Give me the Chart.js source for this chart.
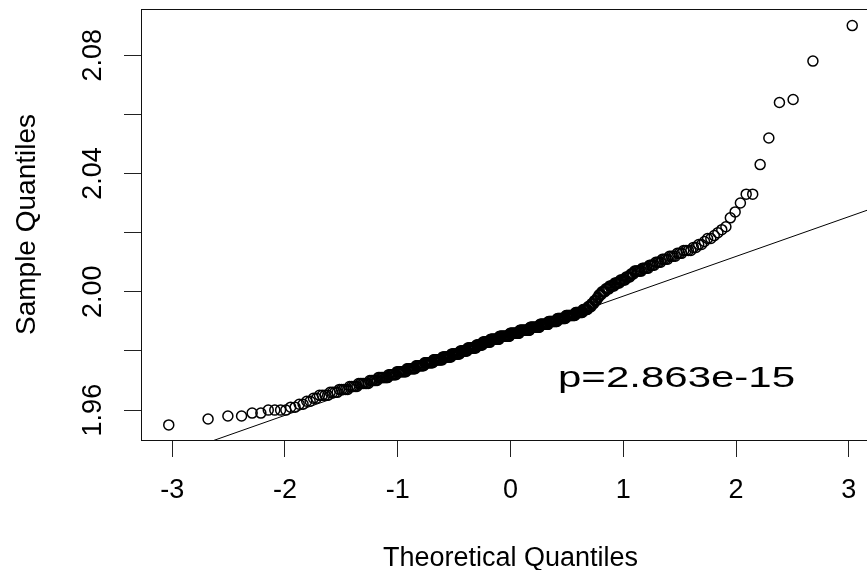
<!DOCTYPE html>
<html>
<head>
<meta charset="utf-8">
<script src="https://cdn.jsdelivr.net/npm/chart.js@4/dist/chart.umd.min.js"></script>
<style>
  html, body { margin: 0; padding: 0; background: #fff; overflow: hidden; }
  canvas { display: block; }
</style>
</head>
<body>
<canvas id="c" width="900" height="570"></canvas>
<script>
// ---- data (sorted sample quantiles, n = 410) ----
const sampleQuantiles = [
  1.955,
  1.957,
  1.958, 1.958,
  1.959, 1.959,
  1.960, 1.960, 1.960, 1.960,
  1.961, 1.961,
  1.962, 1.962,
  1.963, 1.963,
  1.964, 1.964,
  1.965, 1.965, 1.965, 1.965,
  1.966, 1.966, 1.966, 1.966,
  1.967, 1.967, 1.967, 1.967, 1.967,
  1.968, 1.968, 1.968, 1.968, 1.968,
  1.969, 1.969, 1.969, 1.969, 1.969, 1.969, 1.969,
  1.970, 1.970, 1.970, 1.970, 1.970, 1.970,
  1.971, 1.971, 1.971, 1.971, 1.971, 1.971, 1.971, 1.971,
  1.972, 1.972, 1.972, 1.972, 1.972, 1.972, 1.972,
  1.973, 1.973, 1.973, 1.973, 1.973, 1.973, 1.973, 1.973, 1.973,
  1.974, 1.974, 1.974, 1.974, 1.974, 1.974, 1.974, 1.974, 1.974,
  1.975, 1.975, 1.975, 1.975, 1.975, 1.975, 1.975, 1.975, 1.975,
  1.976, 1.976, 1.976, 1.976, 1.976, 1.976, 1.976, 1.976, 1.976, 1.976,
  1.977, 1.977, 1.977, 1.977, 1.977, 1.977, 1.977, 1.977, 1.977, 1.977, 1.977,
  1.978, 1.978, 1.978, 1.978, 1.978, 1.978, 1.978, 1.978, 1.978, 1.978, 1.978,
  1.979, 1.979, 1.979, 1.979, 1.979, 1.979, 1.979, 1.979, 1.979, 1.979, 1.979,
  1.980, 1.980, 1.980, 1.980, 1.980, 1.980, 1.980, 1.980, 1.980, 1.980,
  1.981, 1.981, 1.981, 1.981, 1.981, 1.981, 1.981, 1.981, 1.981, 1.981, 1.981, 1.981,
  1.982, 1.982, 1.982, 1.982, 1.982, 1.982, 1.982, 1.982, 1.982,
  1.983, 1.983, 1.983, 1.983, 1.983, 1.983, 1.983, 1.983, 1.983, 1.983, 1.983,
  1.984, 1.984, 1.984, 1.984, 1.984, 1.984, 1.984, 1.984, 1.984, 1.984, 1.984, 1.984, 1.984,
  1.985, 1.985, 1.985, 1.985, 1.985, 1.985, 1.985, 1.985, 1.985, 1.985, 1.985, 1.985, 1.985, 1.985, 1.985,
  1.986, 1.986, 1.986, 1.986, 1.986, 1.986, 1.986, 1.986, 1.986, 1.986, 1.986, 1.986, 1.986, 1.986,
  1.987, 1.987, 1.987, 1.987, 1.987, 1.987, 1.987, 1.987, 1.987, 1.987, 1.987, 1.987, 1.987, 1.987, 1.987,
  1.988, 1.988, 1.988, 1.988, 1.988, 1.988, 1.988, 1.988, 1.988, 1.988, 1.988, 1.988, 1.988, 1.988,
  1.989, 1.989, 1.989, 1.989, 1.989, 1.989, 1.989, 1.989, 1.989, 1.989, 1.989, 1.989,
  1.990, 1.990, 1.990, 1.990, 1.990, 1.990, 1.990, 1.990, 1.990, 1.990, 1.990, 1.990,
  1.991, 1.991, 1.991, 1.991, 1.991, 1.991, 1.991, 1.991, 1.991, 1.991, 1.991,
  1.992, 1.992, 1.992, 1.992, 1.992, 1.992, 1.992, 1.992, 1.992, 1.992, 1.992, 1.992,
  1.993, 1.993, 1.993, 1.993, 1.993, 1.993, 1.993, 1.993, 1.993,
  1.994, 1.994, 1.994, 1.994, 1.994, 1.994,
  1.995, 1.995, 1.995, 1.995,
  1.996, 1.996, 1.996,
  1.997, 1.997, 1.997,
  1.998, 1.998,
  1.999, 1.999, 1.999,
  2.000, 2.000, 2.000, 2.000,
  2.001, 2.001, 2.001, 2.001,
  2.002, 2.002, 2.002, 2.002, 2.002,
  2.003, 2.003, 2.003, 2.003, 2.003,
  2.004, 2.004, 2.004, 2.004, 2.004,
  2.005, 2.005, 2.005, 2.005,
  2.006, 2.006, 2.006,
  2.007, 2.007, 2.007, 2.007, 2.007, 2.007,
  2.008, 2.008, 2.008, 2.008, 2.008,
  2.009, 2.009, 2.009, 2.009,
  2.010, 2.010, 2.010, 2.010,
  2.011, 2.011, 2.011, 2.011,
  2.012, 2.012, 2.012, 2.012,
  2.013, 2.013, 2.013,
  2.014, 2.014, 2.014, 2.014,
  2.015, 2.015,
  2.016, 2.016,
  2.017,
  2.018, 2.018,
  2.019, 2.020, 2.021, 2.022, 2.025, 2.027, 2.030,
  2.033, 2.033, 2.043, 2.052, 2.064, 2.065, 2.078, 2.090
];

// reference line (qqline) read at two x positions
const refLineX = [-3.5, 3.5];
const refLineY = [1.9381, 2.0321];

// axes
const xTicks = [-3, -2, -1, 0, 1, 2, 3];
const yTicks = [1.96, 1.98, 2.00, 2.02, 2.04, 2.06, 2.08];
const yTickLabels = [1.96, 2.00, 2.04, 2.08];
const xRange = [-3.277, 3.277];
const yRange = [1.9499, 2.0956];

const xTitle = 'Theoretical Quantiles';
const yTitle = 'Sample Quantiles';
const pText = 'p=2.863e-15';

// theoretical normal quantiles as in R's qqnorm: qnorm(ppoints(n))
function qnorm(p) {
  const a = [-3.969683028665376e+01, 2.209460984245205e+02, -2.759285104469687e+02, 1.383577518672690e+02, -3.066479806614716e+01, 2.506628277459239e+00];
  const b = [-5.447609879822406e+01, 1.615858368580409e+02, -1.556989798598866e+02, 6.680131188771972e+01, -1.328068155288572e+01];
  const c = [-7.784894002430293e-03, -3.223964580411365e-01, -2.400758277161838e+00, -2.549732539343734e+00, 4.374664141464968e+00, 2.938163982698783e+00];
  const d = [7.784695709041462e-03, 3.224671290700398e-01, 2.445134137142996e+00, 3.754408661907416e+00];
  const pl = 0.02425, ph = 1 - pl;
  let q, r;
  if (p < pl) {
    q = Math.sqrt(-2 * Math.log(p));
    return (((((c[0]*q+c[1])*q+c[2])*q+c[3])*q+c[4])*q+c[5]) / ((((d[0]*q+d[1])*q+d[2])*q+d[3])*q+1);
  }
  if (p <= ph) {
    q = p - 0.5; r = q * q;
    return (((((a[0]*r+a[1])*r+a[2])*r+a[3])*r+a[4])*r+a[5])*q / (((((b[0]*r+b[1])*r+b[2])*r+b[3])*r+b[4])*r+1);
  }
  q = Math.sqrt(-2 * Math.log(1 - p));
  return -(((((c[0]*q+c[1])*q+c[2])*q+c[3])*q+c[4])*q+c[5]) / ((((d[0]*q+d[1])*q+d[2])*q+d[3])*q+1);
}

const n = sampleQuantiles.length;
const points = sampleQuantiles.map((v, i) => ({ x: qnorm((i + 0.5) / n), y: v }));
const linePts = refLineX.map((x, i) => ({ x: x, y: refLineY[i] }));

const FONT = '"Liberation Sans", Arial, Helvetica, sans-serif';

const decor = {
  id: 'decor',
  afterDraw(chart) {
    const ctx = chart.ctx;
    const ca = chart.chartArea;
    const ys = chart.scales.y;
    ctx.save();
    // plot box
    ctx.strokeStyle = '#111';
    ctx.lineWidth = 1;
    ctx.strokeRect(ca.left + 0.5, ca.top + 0.5, ca.right - ca.left, ca.bottom - ca.top);
    ctx.fillStyle = '#000';
    // y tick labels (rotated, like R's las=0)
    ctx.font = '27px ' + FONT;
    ctx.textAlign = 'center';
    ctx.textBaseline = 'alphabetic';
    yTickLabels.forEach(v => {
      const py = ys.getPixelForValue(v);
      ctx.save();
      ctx.translate(101, py);
      ctx.rotate(-Math.PI / 2);
      ctx.fillText(v.toFixed(2), 0, 0);
      ctx.restore();
    });
    // y title
    ctx.save();
    ctx.font = '28px ' + FONT;
    ctx.translate(35, (ca.top + ca.bottom) / 2);
    ctx.rotate(-Math.PI / 2);
    ctx.fillText(yTitle, 0, 0);
    ctx.restore();
    // x title
    ctx.font = '27px ' + FONT;
    ctx.fillText(xTitle, (ca.left + ca.right) / 2, 566);
    // p-value annotation (wide glyphs as in the reference)
    ctx.save();
    ctx.font = '30px ' + FONT;
    ctx.textAlign = 'left';
    ctx.translate(558, 387);
    ctx.scale(1.4, 1);
    ctx.fillText(pText, 0, 0);
    ctx.restore();
    ctx.restore();
  }
};

new Chart(document.getElementById('c').getContext('2d'), {
  type: 'scatter',
  data: {
    datasets: [
      {
        type: 'line',
        data: linePts,
        borderColor: '#000',
        borderWidth: 1,
        pointRadius: 0,
        fill: false,
        tension: 0,
        clip: 0
      },
      {
        type: 'scatter',
        data: points,
        pointStyle: 'circle',
        pointRadius: 5,
        pointHoverRadius: 5,
        borderColor: '#000',
        borderWidth: 1.5,
        backgroundColor: 'rgba(0,0,0,0)',
        clip: 0
      }
    ]
  },
  options: {
    responsive: false,
    animation: false,
    events: [],
    layout: { padding: { top: 9, right: 20, left: 0, bottom: 0 } },
    plugins: { legend: { display: false }, tooltip: { enabled: false }, title: { display: false } },
    scales: {
      x: {
        type: 'linear',
        min: xRange[0],
        max: xRange[1],
        afterBuildTicks: s => { s.ticks = xTicks.map(v => ({ value: v })); },
        afterFit: s => { s.height = 130; },
        border: { display: false },
        grid: { drawOnChartArea: false, drawTicks: true, tickLength: 17, color: '#222', lineWidth: 1 },
        ticks: {
          font: { family: FONT, size: 27 },
          color: '#000',
          padding: 17,
          autoSkip: false,
          maxRotation: 0,
          minRotation: 0,
          callback: v => String(v)
        }
      },
      y: {
        type: 'linear',
        min: yRange[0],
        max: yRange[1],
        afterBuildTicks: s => { s.ticks = yTicks.map(v => ({ value: v })); },
        afterFit: s => { s.width = 141; },
        border: { display: false },
        grid: { drawOnChartArea: false, drawTicks: true, tickLength: 17, color: '#222', lineWidth: 1 },
        ticks: { display: false }
      }
    }
  },
  plugins: [decor]
});
</script>
</body>
</html>
